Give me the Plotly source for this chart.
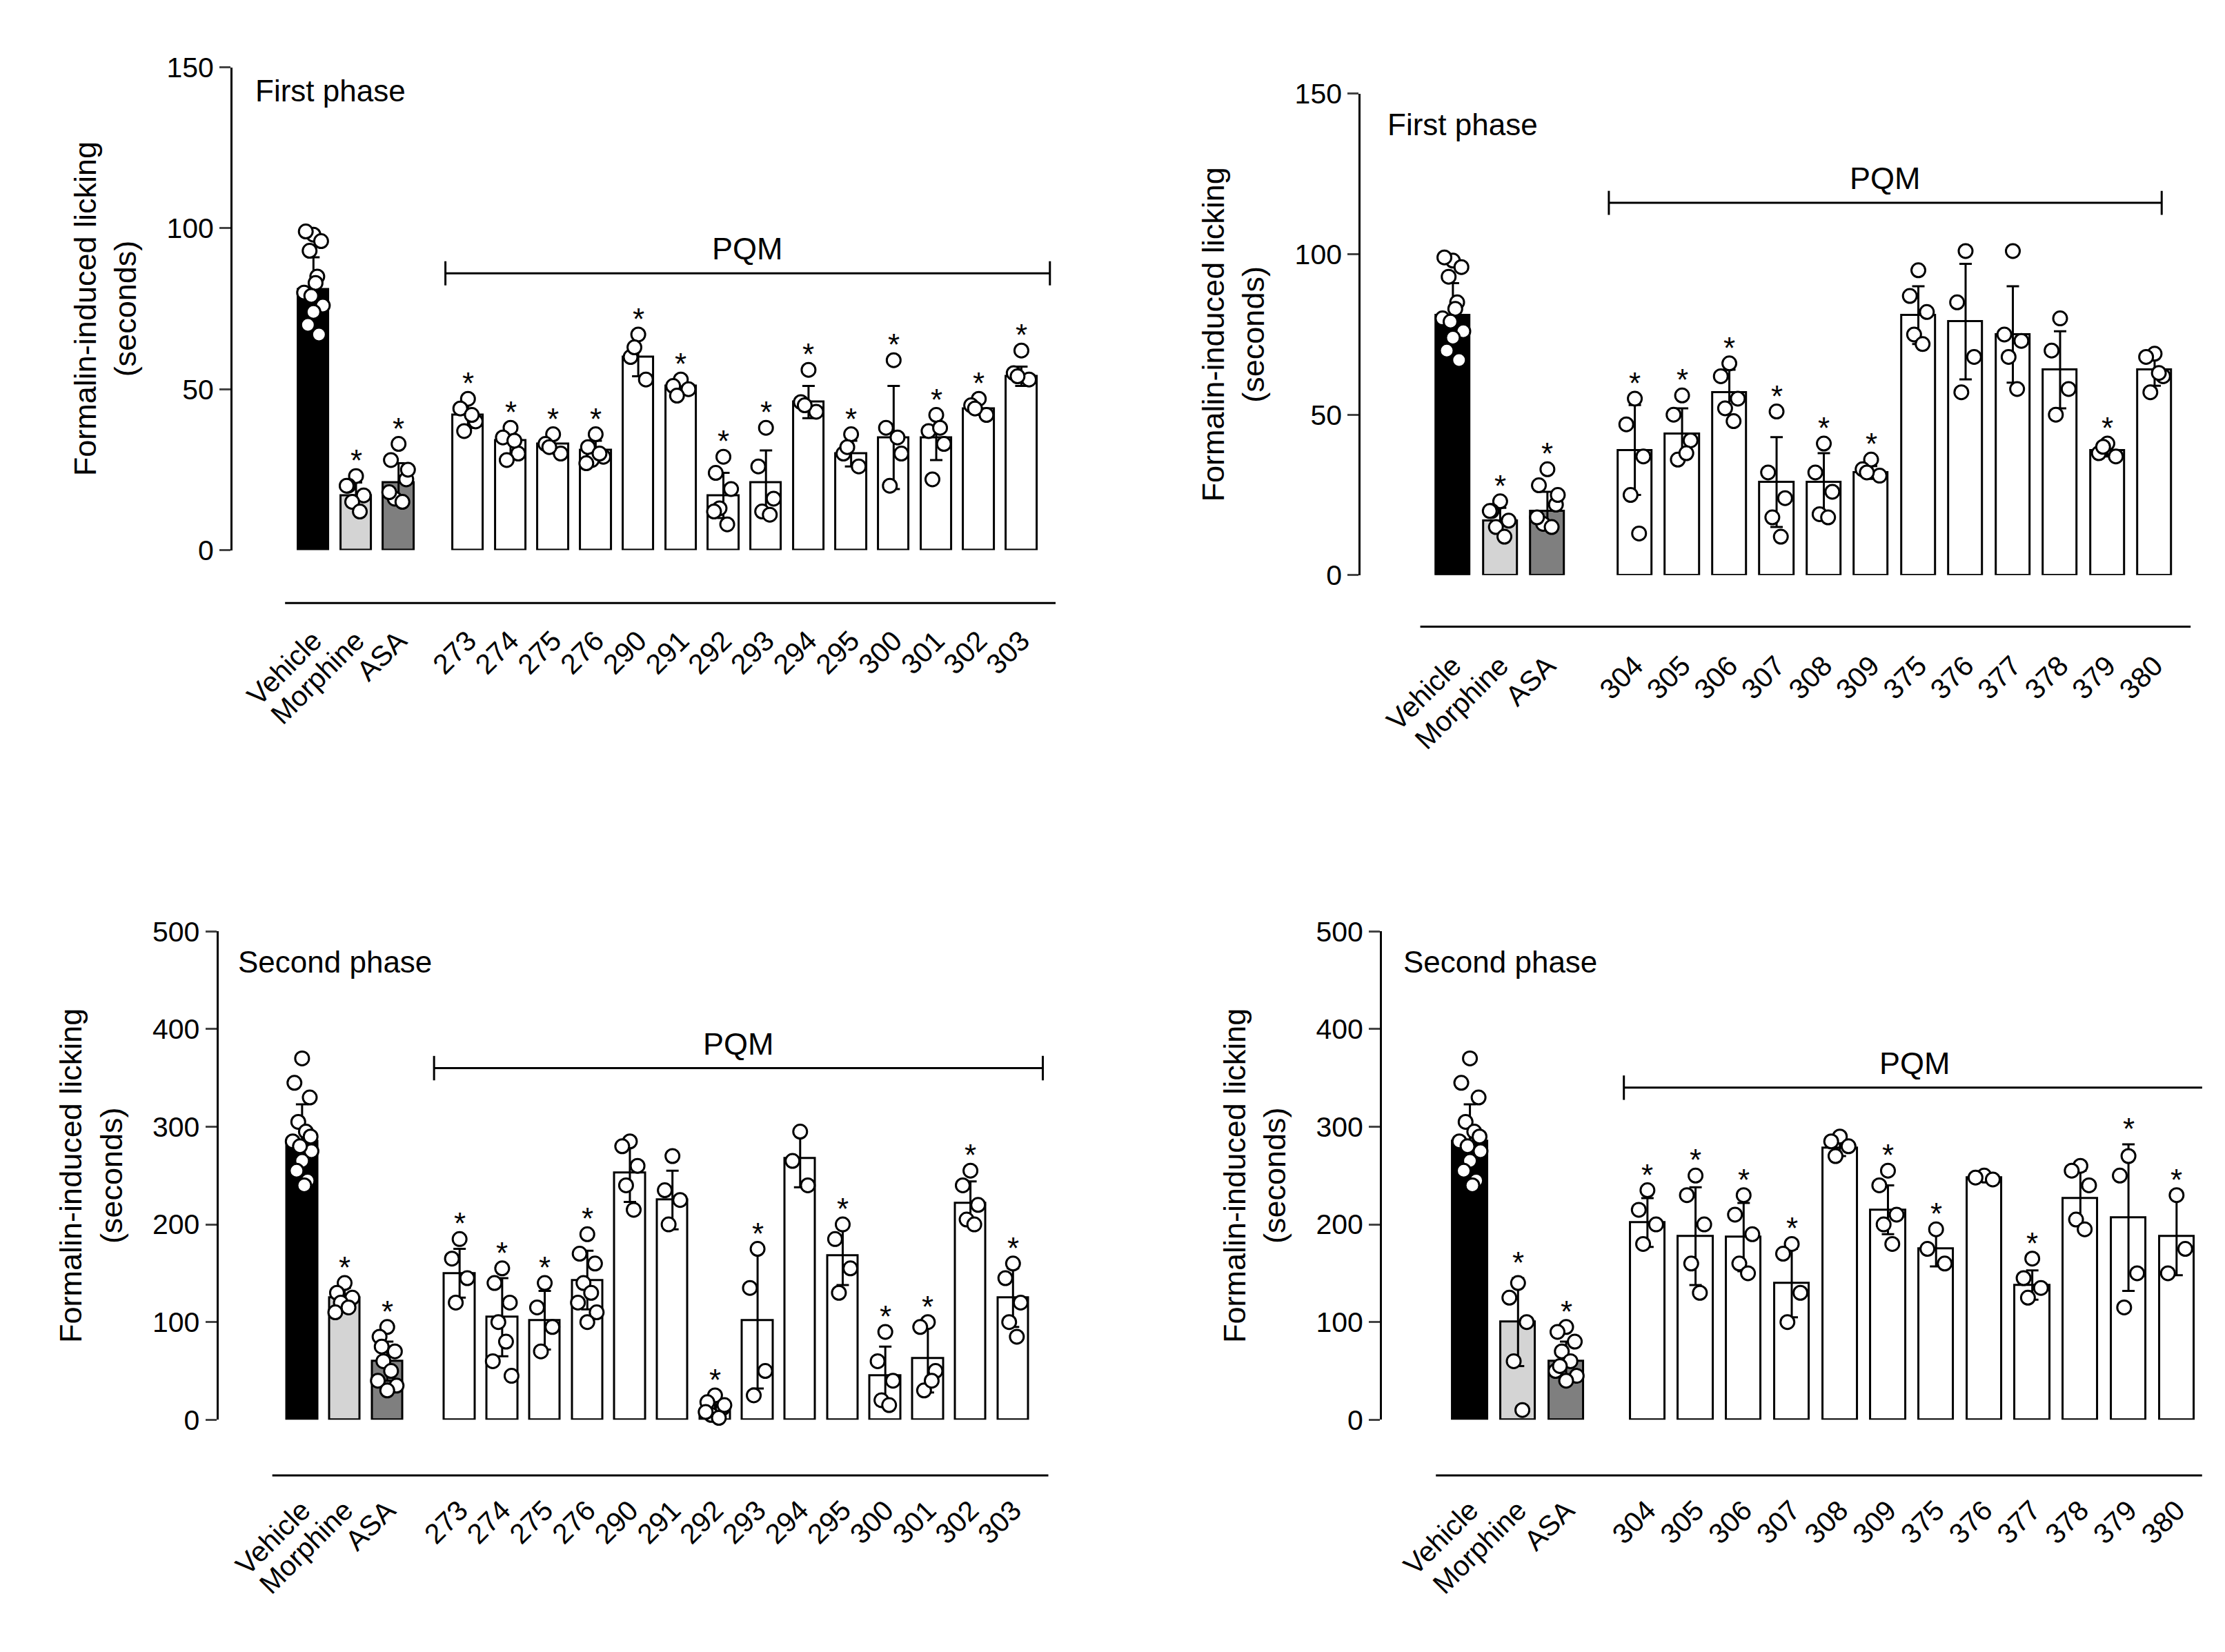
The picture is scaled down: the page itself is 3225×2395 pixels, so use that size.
import plotly.graph_objects as go

S = 3225/1568
H0 = 2395/S
FONT = "Arial, Liberation Sans, sans-serif"

# ---------------- data ----------------
ctrl_labels = ["Vehicle", "Morphine", "ASA"]

tl_labels = ["273","274","275","276","290","291","292","293","294","295","300","301","302","303"]
tl_means = [81,17,21, 42,34,33,31,60,51,17,21,46,30,35,35,44,54]
tl_sd    = [10,4,6, 4,4,3,3,6,2,7,10,5,4,16,7,2,3]
tl_pts = [[98,99,96,93,85,80,76,74,70,67,83,79],[23,20,17,15,12,20],[33,28,22,16,15,18,25],
          [47,44,40,37,42],[38,35,30,28,34],[36,33,30,32],[36,32,29,28,30,27],[67,60,53,63],
          [53,51,50,48],[29,24,19,13,8,12],[38,26,16,12,11],[56,46,43,45],[36,30,26,32],
          [59,38,30,20,35],[42,37,33,22,38],[47,45,42,44],[62,55,53,54]]
tl_star = [0,1,1]+[1]*14

tr_labels = ["304","305","306","307","308","309","375","376","377","378","379","380"]
tr_means = [81,17,20, 39,44,57,29,29,32,81,79,75,64,39,64]
tr_sd    = [10,4,6, 14,8,7,14,9,2,9,18,15,12,2,5]
tr_pts = [[98,99,96,93,85,80,76,74,70,67,83,79],[23,20,17,15,12,20],[33,28,22,16,15,18,25],
          [55,47,37,25,13],[56,50,42,36,38],[66,62,55,52,48],[51,32,24,18,12],[41,32,26,19,18],
          [36,33,31,32],[95,87,82,75,72],[101,85,68,57],[101,75,73,68,58],[80,70,58,50],
          [41,38,37,40],[69,68,62,57,63]]
tr_star = [0,1,1, 1,1,1,1,1,1,0,0,0,0,1,0]

bl_means = [285,125,60, 150,105,102,143,253,225,10,102,268,168,45,63,222,125]
bl_sd    = [38,10,20, 25,40,30,30,30,30,8,70,30,30,30,35,22,30]
bl_pts = [[370,345,330,305,295,285,275,265,255,245,240,280,290],[140,130,125,120,115,110],
          [95,85,70,60,50,40,35,30,75],[185,165,145,120],[155,140,120,100,80,60,45],[140,115,95,70],
          [190,170,160,140,130,120,110,100],[285,280,260,240,215],[270,235,225,200],
          [25,18,12,5,2,8,15],[175,135,50,25],[295,265,240],[200,185,155,130],[90,60,40,20,15],
          [100,95,50,30,40],[255,240,220,205,200],[160,145,120,100,85]]
bl_star = [0,1,1, 1,1,1,1,0,0,1,1,0,1,1,1,1,1]

br_means = [285,100,60, 202,188,187,140,278,215,175,248,138,227,207,188]
br_sd    = [38,45,20, 25,50,35,35,8,25,18,2,15,28,75,40]
br_pts = [[370,345,330,305,295,285,275,265,255,245,240,280,290],[140,125,100,60,10],
          [95,90,80,70,60,50,45,40,55],[235,215,200,180],[250,230,200,160,130],[230,210,190,160,150],
          [180,170,130,100],[290,285,280,270],[255,240,210,200,180],[195,175,160],[250,248,246],
          [165,145,135,125],[260,255,240,205,195],[270,250,150,115],[230,150,175]]
br_star = [0,1,1, 1,1,1,1,0,1,1,0,1,0,1,1]

panels = [
    # labels, means, sd, pts, star, phase, ymax, dtick, px: axis_x, right_x, top_y, zero_y, veh_x, unit, comp_start, line_y, line_x0, bracket_y, br_x0, br_x1, phase_xy
    dict(labels=ctrl_labels+tl_labels, m=tl_means, sd=tl_sd, pts=tl_pts, star=tl_star, phase="First phase",
         ymax=150, dtick=50, ax=160, rx=740, ty=33, zy=380, vx=217, unit=30, cs=3.63, ly=418, lx=197,
         by=86, bx0=3.1, bx1=17.3, pxy=(175, 50)),
    dict(labels=ctrl_labels+tr_labels, m=tr_means, sd=tr_sd, pts=tr_pts, star=tr_star, phase="First phase",
         ymax=150, dtick=50, ax=955, rx=1540, ty=52, zy=398, vx=1020, unit=33.3, cs=3.85, ly=435, lx=997,
         by=116, bx0=3.3, bx1=15.0, pxy=(973, 74)),
    dict(labels=ctrl_labels+tl_labels, m=bl_means, sd=bl_sd, pts=bl_pts, star=bl_star, phase="Second phase",
         ymax=500, dtick=100, ax=150, rx=735, ty=654, zy=1005, vx=209, unit=30, cs=3.7, ly=1045, lx=188,
         by=360, bx0=3.1, bx1=17.4, pxy=(163, 676)),
    dict(labels=ctrl_labels+tr_labels, m=br_means, sd=br_sd, pts=br_pts, star=br_star, phase="Second phase",
         ymax=500, dtick=100, ax=970, rx=1548, ty=654, zy=1005, vx=1032, unit=33.9, cs=3.69, ly=1045, lx=1008,
         by=340, bx0=3.2, bx1=15.3, pxy=(984, 676)),
]

fig = go.Figure()
colors_ctrl = ["#000000", "#d4d4d4", "#7f7f7f"]
offs = [0, -0.18, 0.18, -0.09, 0.09, -0.22, 0.22, 0.0, -0.13, 0.13, 0.05, -0.05, 0.2]
layout = {}
for i, p in enumerate(panels):
    k = "" if i == 0 else str(i+1)
    xa, ya = "x"+k, "y"+k
    n = len(p["m"])
    xs = [0, 1, 2] + [p["cs"] + j for j in range(n-3)]
    cols = colors_ctrl + ["white"]*(n-3)
    x0 = (p["ax"]-p["vx"])/p["unit"]
    x1 = (p["rx"]-p["vx"])/p["unit"]
    fig.add_trace(go.Bar(x=xs, y=p["m"], width=0.72, marker=dict(color=cols, line=dict(color="black", width=3)),
                         error_y=dict(type="data", array=p["sd"], color="black", thickness=3, width=9),
                         xaxis=xa, yaxis=ya, showlegend=False))
    dx, dy = [], []
    for xi, pts in zip(xs, p["pts"]):
        for j, v in enumerate(pts):
            dx.append(xi + offs[j % len(offs)]); dy.append(v)
    fig.add_trace(go.Scatter(x=dx, y=dy, mode="markers", cliponaxis=False,
                             marker=dict(size=20, color="white", line=dict(color="black", width=3)),
                             xaxis=xa, yaxis=ya, showlegend=False))
    for xi, m, s, pts, st in zip(xs, p["m"], p["sd"], p["pts"], p["star"]):
        if st:
            top = max(max(pts), m+s)
            fig.add_annotation(x=xi, y=top, xref=xa, yref=ya, text="*", showarrow=False,
                               yanchor="bottom", yshift=-4, font=dict(size=44, family=FONT, color="black"))
    dom_x = [p["ax"]/1568, p["rx"]/1568]
    dom_y = [1 - p["zy"]/H0, 1 - p["ty"]/H0]
    layout["xaxis"+k] = dict(domain=dom_x, range=[x0, x1], anchor=ya, tickvals=xs, ticktext=p["labels"],
                             tickangle=-45, showline=False, ticks="", showgrid=False, zeroline=False,
                             ticklabelstandoff=int(48*S), tickfont=dict(size=41, family=FONT, color="black"))
    layout["yaxis"+k] = dict(domain=dom_y, range=[0, p["ymax"]], anchor=xa, dtick=p["dtick"], showline=True,
                             linecolor="black", linewidth=3, ticks="outside", ticklen=16, tickwidth=3,
                             showgrid=False, zeroline=False, tickfont=dict(size=41, family=FONT, color="black"),
                             title=dict(text="Formalin-induced licking<br>(seconds)", standoff=30,
                                        font=dict(size=45, family=FONT, color="black")))
    # bottom line
    fig.add_shape(type="line", xref=xa, yref="paper", x0=(p["lx"]-p["vx"])/p["unit"], x1=x1,
                  y0=1-p["ly"]/H0, y1=1-p["ly"]/H0, line=dict(color="black", width=3))
    # PQM bracket
    fig.add_shape(type="line", xref=xa, yref=ya, x0=p["bx0"], x1=p["bx1"], y0=p["by"], y1=p["by"],
                  line=dict(color="black", width=3))
    tk = p["ymax"]*0.025
    for bx in (p["bx0"], p["bx1"]):
        fig.add_shape(type="line", xref=xa, yref=ya, x0=bx, x1=bx, y0=p["by"]-tk, y1=p["by"]+tk,
                      line=dict(color="black", width=3))
    fig.add_annotation(x=(p["bx0"]+p["bx1"])/2, y=p["by"], xref=xa, yref=ya, text="PQM", showarrow=False,
                       yanchor="bottom", yshift=8, font=dict(size=45, family=FONT, color="black"))
    fig.add_annotation(x=p["pxy"][0]/1568, y=1-p["pxy"][1]/H0, xref="paper", yref="paper", text=p["phase"],
                       showarrow=False, xanchor="left", yanchor="middle",
                       font=dict(size=44, family=FONT, color="black"))

fig.update_layout(width=3225, height=2395, margin=dict(l=0, r=0, t=0, b=0), plot_bgcolor="white",
                  paper_bgcolor="white", bargap=0, **layout)
fig.write_html("out.html")
